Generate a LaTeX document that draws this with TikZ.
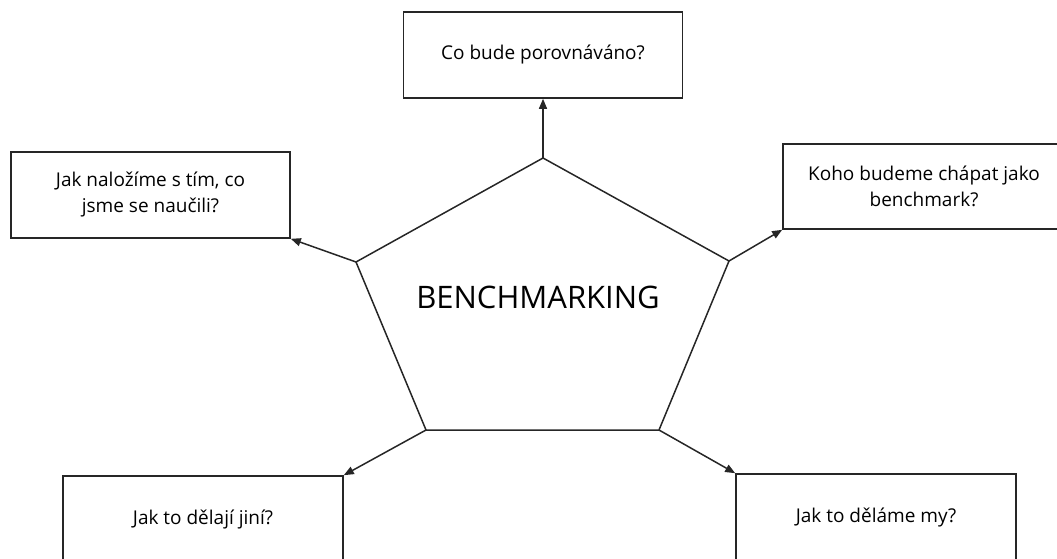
\documentclass[tikz,border=0pt]{standalone}
\usepackage{fontspec}
\setmainfont{Open Sans}
\usetikzlibrary{arrows.meta}

\begin{document}
\begin{tikzpicture}[x=1pt, y=-1pt,
  qbox/.style={draw=black!85, line width=1.6pt, align=center, inner sep=0pt,
    minimum width=280pt, minimum height=86pt, font=\fontsize{19}{26}\selectfont},
  edge/.style={draw=black!85, line width=1.5pt},
  link/.style={edge, -{Triangle[length=10pt, width=8pt]}}]
\useasboundingbox (0,0) rectangle (1057,559);
\clip (0,0) rectangle (1057,559);
% Pentagon corners
\coordinate (pT) at (543,158);
\coordinate (pR) at (729,261);
\coordinate (pBR) at (659,430);
\coordinate (pBL) at (426,430);
\coordinate (pL) at (356,262);
\draw[edge, line join=miter] (pT) -- (pR) -- (pBR) -- (pBL) -- (pL) -- cycle;
\node[font=\fontsize{31}{36}\selectfont] (bench) at (538,297) {BENCHMARKING};
% Question boxes
\node[qbox, minimum width=279pt] (co) at (543,55) {Co bude porovnáváno?};
\node[qbox, minimum width=279pt] (jak) at (150.5,195) {Jak naložíme s tím, co\\jsme se naučili?};
\node[qbox, minimum width=282pt, minimum height=85pt] (koho) at (924,186.5) {Koho budeme chápat jako\\benchmark?};
\node[qbox] (jini) at (203,519) {Jak to dělají jiní?};
\node[qbox] (my) at (876,517) {Jak to děláme my?};
% Arrows
\draw[link] (pT) -- (co.south);
\draw[link] (pL) -- (jak.south east);
\draw[link] (pR) -- (koho.south west);
\draw[link] (pBL) -- (jini.north east);
\draw[link] (pBR) -- (my.north west);
\end{tikzpicture}
\end{document}
